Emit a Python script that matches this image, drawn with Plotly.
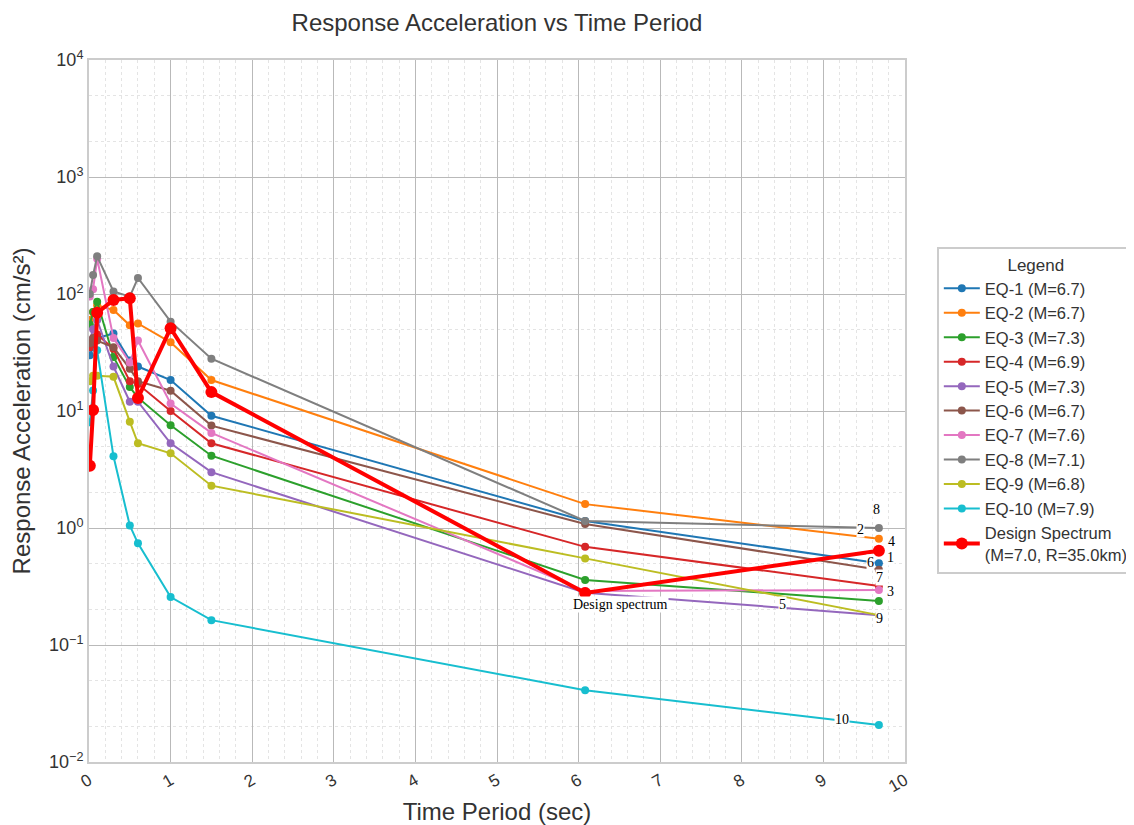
import math
import plotly.graph_objects as go

periods = [0.01, 0.05, 0.1, 0.3, 0.5, 0.6, 1.0, 1.5, 6.08, 9.68]

eq_names = ["EQ-1 (M=6.7)", "EQ-2 (M=6.7)", "EQ-3 (M=7.3)", "EQ-4 (M=6.9)", "EQ-5 (M=7.3)",
            "EQ-6 (M=6.7)", "EQ-7 (M=7.6)", "EQ-8 (M=7.1)", "EQ-9 (M=6.8)", "EQ-10 (M=7.9)"]
eq1 = [30, 35, 42, 46, 27, 24, 18.4, 9.1, 1.15, 0.50]
eq2 = [60, 70, 80, 73, 54, 56, 38.6, 18.4, 1.6, 0.81]
eq3 = [55, 70, 86, 29, 16, 13, 7.55, 4.15, 0.36, 0.238]
eq4 = [35, 40, 45, 34, 18, 17, 10, 5.3, 0.69, 0.32]
eq5 = [40, 50, 60, 24, 12, 12, 5.3, 3.0, 0.28, 0.18]
eq6 = [38, 42, 40, 35, 23, 18, 14.9, 7.5, 1.08, 0.44]
eq7 = [95, 110, 200, 42, 26, 40, 11.6, 6.5, 0.29, 0.295]
eq8 = [100, 145, 210, 105, 95, 137, 58, 28, 1.15, 1.0]
eq9 = [18, 20, 20, 19.6, 8.1, 5.3, 4.35, 2.3, 0.55, 0.18]
eq10 = [8, 15, 33, 4.1, 1.05, 0.74, 0.257, 0.163, 0.041, 0.0207]
design = [3.4, 10.2, 69, 89, 92, 12.9, 51, 14.5, 0.278, 0.64]

colors = ["#1f77b4", "#ff7f0e", "#2ca02c", "#d62728", "#9467bd",
          "#8c564b", "#e377c2", "#7f7f7f", "#bcbd22", "#17becf"]

# end labels: text, x, y (data units)
label_text = ["8", "2", "4", "1", "6", "7", "3", "9", "5", "10", "Design spectrum"]
label_x = [9.645, 9.45, 9.83, 9.82, 9.58, 9.69, 9.82, 9.69, 8.5, 9.23, 6.51]
label_y = [1.45, 0.98, 0.76, 0.565, 0.51, 0.374, 0.284, 0.167, 0.224, 0.0233, 0.224]

y_tickvals = [0.01, 0.1, 1, 10, 100, 1000, 10000]
y_ticktext = ["10<sup>−2</sup>", "10<sup>−1</sup>", "10<sup>0</sup>", "10<sup>1</sup>",
              "10<sup>2</sup>", "10<sup>3</sup>", "10<sup>4</sup>"]
x_tickvals = [0, 1, 2, 3, 4, 5, 6, 7, 8, 9, 10]

fig = go.Figure()
series = [eq1, eq2, eq3, eq4, eq5, eq6, eq7, eq8, eq9, eq10]
for name, vals, c in zip(eq_names, series, colors):
    fig.add_trace(go.Scatter(x=periods, y=vals, name=name, mode="lines+markers",
                             line=dict(color=c, width=2), marker=dict(color=c, size=8)))
fig.add_trace(go.Scatter(x=periods, y=design, name="Design Spectrum<br>(M=7.0, R=35.0km)",
                         mode="lines+markers", line=dict(color="#ff0000", width=4),
                         marker=dict(color="#ff0000", size=12)))

for t, x, y in zip(label_text, label_x, label_y):
    fig.add_annotation(x=x, y=math.log10(y), text=t, showarrow=False, xref="x", yref="y",
                       font=dict(family="Liberation Serif, DejaVu Serif", size=14, color="black"),
                       bgcolor="white", borderpad=0)

grid = "#b9b9b9"
fig.update_layout(
    width=1126, height=817,
    paper_bgcolor="white", plot_bgcolor="white",
    margin=dict(l=81, r=229, t=52, b=63, autoexpand=False),
    title=dict(text="Response Acceleration vs Time Period", x=489/1126, xanchor="center",
               y=1 - 15/817, yanchor="middle",
               font=dict(family="Liberation Sans, Arial", size=24, color="#333333")),
    font=dict(family="Liberation Sans, Arial", color="#333333"),
    legend=dict(title=dict(text="Legend", side="top center", font=dict(size=17, color="#333")),
                x=1.039, xanchor="left", y=0.7336, yanchor="top",
                bgcolor="white", bordercolor="#cccccc", borderwidth=2,
                font=dict(family="Liberation Sans, Arial", size=16.5, color="#333333"),
                itemwidth=36, tracegroupgap=0),
    showlegend=True,
)
fig.update_xaxes(range=[0, 10], tickvals=x_tickvals, tickangle=-30,
                 tickfont=dict(size=17, color="#333"),
                 title=dict(text="Time Period (sec)", standoff=12,
                            font=dict(family="Liberation Sans, Arial", size=24, color="#333")),
                 showgrid=True, gridcolor=grid, gridwidth=1.2, zeroline=False, automargin=False,
                 showline=True, linecolor="#cccccc", linewidth=2, mirror=True,
                 minor=dict(dtick=0.2, showgrid=True, gridcolor="#e4e4e4", griddash="dot"))
fig.update_yaxes(type="log", range=[-2, 4], tickvals=y_tickvals, ticktext=y_ticktext,
                 tickfont=dict(size=18, color="#333"),
                 title=dict(text="Response Acceleration (cm/s²)",
                            font=dict(family="Liberation Sans, Arial", size=24, color="#333")),
                 showgrid=True, gridcolor=grid, gridwidth=1.2, zeroline=False, automargin=False,
                 showline=True, linecolor="#cccccc", linewidth=2, mirror=True,
                 minor=dict(showgrid=True, gridcolor="#e4e4e4", griddash="dot"))

fig.write_html("out.html")
